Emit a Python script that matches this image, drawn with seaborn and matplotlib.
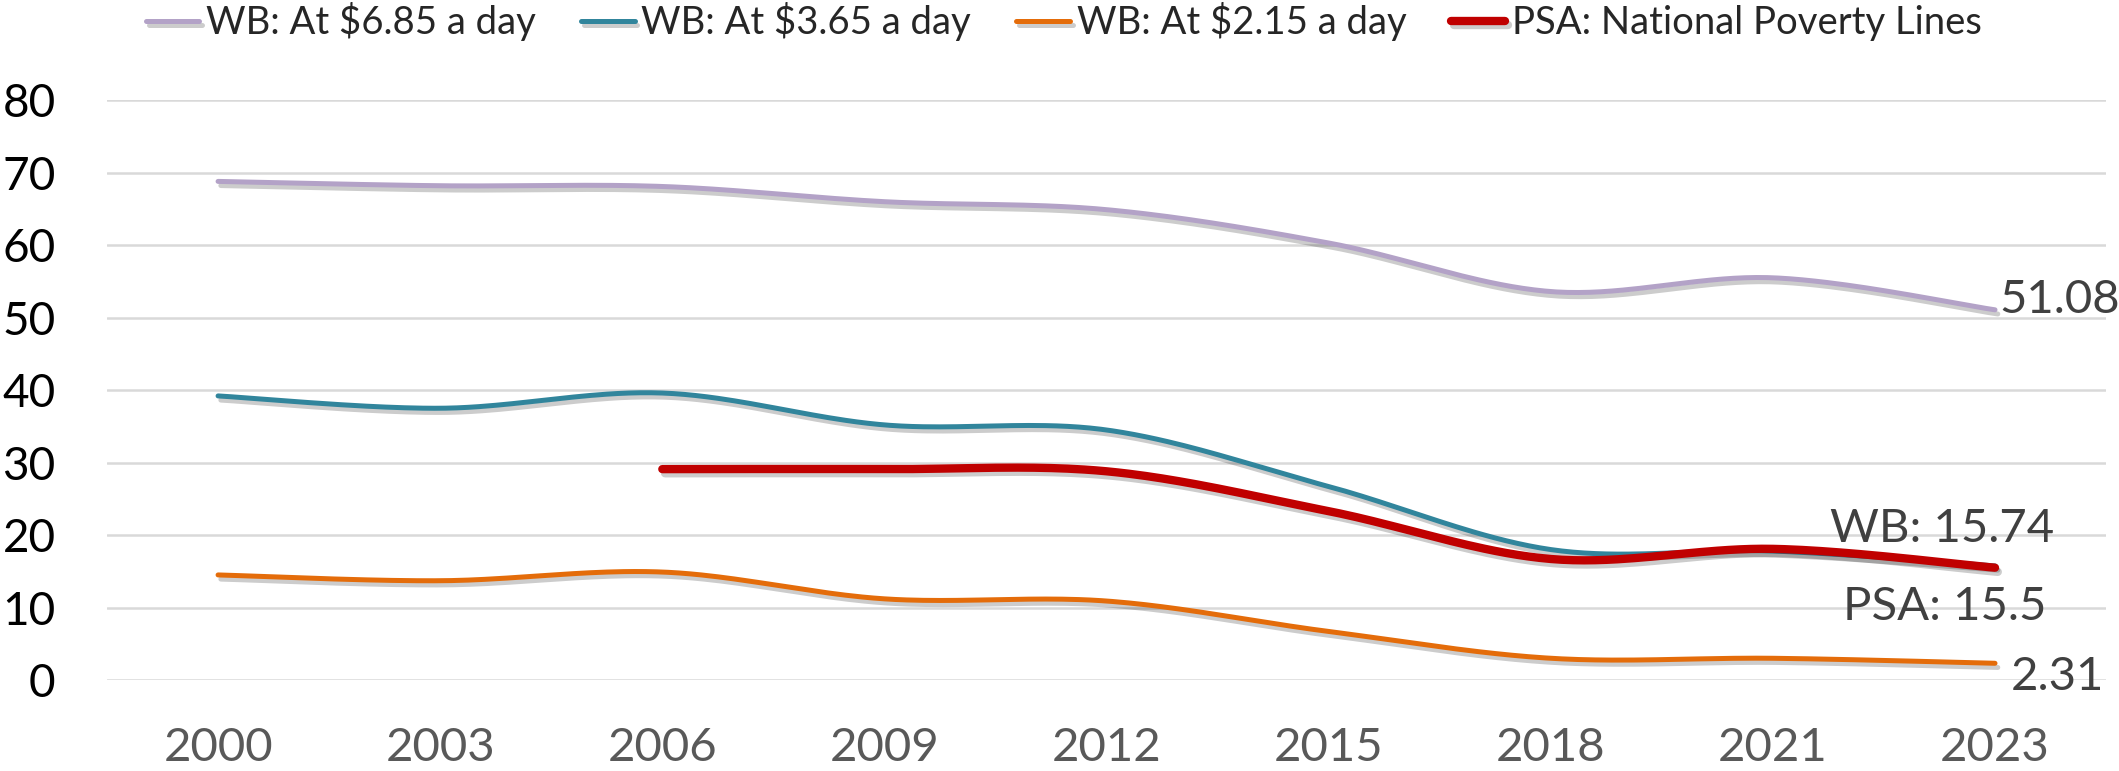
import numpy as np
import pandas as pd
import seaborn as sns
import matplotlib.pyplot as plt
import matplotlib.patheffects as pe

# poverty rates
years = ['2000', '2003', '2006', '2009', '2012', '2015', '2018', '2021', '2023']
wb_685 = [68.8, 68.2, 68.1, 66.0, 64.9, 60.3, 53.6, 55.5, 51.08]
wb_365 = [39.2, 37.5, 39.6, 35.2, 34.5, 26.7, 18.0, 17.8, 15.74]
wb_215 = [14.5, 13.7, 14.9, 11.2, 10.9, 6.7, 3.0, 3.0, 2.31]
psa = [None, None, 29.1, 29.1, 28.8, 23.3, 16.7, 18.1, 15.5]

labels = ['WB: At $6.85 a day', 'WB: At $3.65 a day', 'WB: At $2.15 a day',
          'PSA: National Poverty Lines']
colors = ['#B3A2C7', '#31859C', '#E46C0A', '#C00000']
widths = [3.6, 3.6, 3.6, 6.0]


def smooth(xs, ys, n=40):
    # excel-like smoothed line (catmull-rom through the points)
    xs = np.asarray(xs, float)
    ys = np.asarray(ys, float)
    px = np.concatenate([[xs[0]], xs, [xs[-1]]])
    py = np.concatenate([[ys[0]], ys, [ys[-1]]])
    ox, oy = [], []
    for i in range(1, len(px) - 2):
        t = np.linspace(0, 1, n, endpoint=False)
        b0 = px[i]; b3 = px[i + 1]
        b1 = px[i] + (px[i + 1] - px[i - 1]) / 6
        b2 = px[i + 1] - (px[i + 2] - px[i]) / 6
        c0 = py[i]; c3 = py[i + 1]
        c1 = py[i] + (py[i + 1] - py[i - 1]) / 6
        c2 = py[i + 1] - (py[i + 2] - py[i]) / 6
        u = 1 - t
        ox.extend(u**3 * b0 + 3 * u**2 * t * b1 + 3 * u * t**2 * b2 + t**3 * b3)
        oy.extend(u**3 * c0 + 3 * u**2 * t * c1 + 3 * u * t**2 * c2 + t**3 * c3)
    ox.append(xs[-1]); oy.append(ys[-1])
    return np.array(ox), np.array(oy)


sns.set_style('white')
plt.rcParams['font.family'] = ['Lato', 'DejaVu Sans']

fig = plt.figure(figsize=(21.19, 7.71), dpi=100)
ax = fig.add_axes([0.0505, 0.118, 0.9434, 0.752])

shadow = [pe.SimpleLineShadow(offset=(2, -3), alpha=0.2, shadow_color='black'), pe.Normal()]

for vals, lab, col, lw in zip([wb_685, wb_365, wb_215, psa], labels, colors, widths):
    idx = [i for i, v in enumerate(vals) if v is not None]
    sx, sy = smooth(idx, [vals[i] for i in idx])
    df = pd.DataFrame({'x': sx, 'y': sy})
    sns.lineplot(data=df, x='x', y='y', ax=ax, color=col, linewidth=lw, label=lab,
                 sort=False, estimator=None, solid_capstyle='round',
                 path_effects=shadow)

ax.set_xlim(-0.5, len(years) - 0.5)
ax.set_ylim(0, 80)
ax.set_yticks(range(0, 81, 10))
ax.set_xticks(range(len(years)))
ax.set_xticklabels(years)
ax.set_xlabel('')
ax.set_ylabel('')
ax.grid(axis='y', color='#D9D9D9', linewidth=1.8)
ax.set_axisbelow(True)
for s in ax.spines.values():
    s.set_visible(False)
ax.tick_params(axis='y', length=0, pad=37, labelsize=33, labelcolor='black')
ax.tick_params(axis='x', length=0, pad=34, labelsize=34, labelcolor='#595959')

# end labels
last = len(years) - 1
lab_kw = dict(textcoords='offset pixels', fontsize=34, color='#404040',
              annotation_clip=False, va='baseline')
ax.annotate('51.08', (last, wb_685[-1]), xytext=(4, -3), ha='left', **lab_kw)
ax.annotate('WB: 15.74', (last, wb_365[-1]), xytext=(-53, 24), ha='center', **lab_kw)
ax.annotate('PSA: 15.5', (last, psa[-1]), xytext=(-50, -52), ha='center', **lab_kw)
ax.annotate('2.31', (last, wb_215[-1]), xytext=(16, -27), ha='left', **lab_kw)

ax.legend_.remove()
h, l = ax.get_legend_handles_labels()
fig.legend(h, l, loc='center', bbox_to_anchor=(0.502, 0.972), ncol=4, frameon=False,
           fontsize=27.5, handlelength=1.4, handletextpad=0.18, columnspacing=1.18)

fig.savefig('out.png', dpi=100)
